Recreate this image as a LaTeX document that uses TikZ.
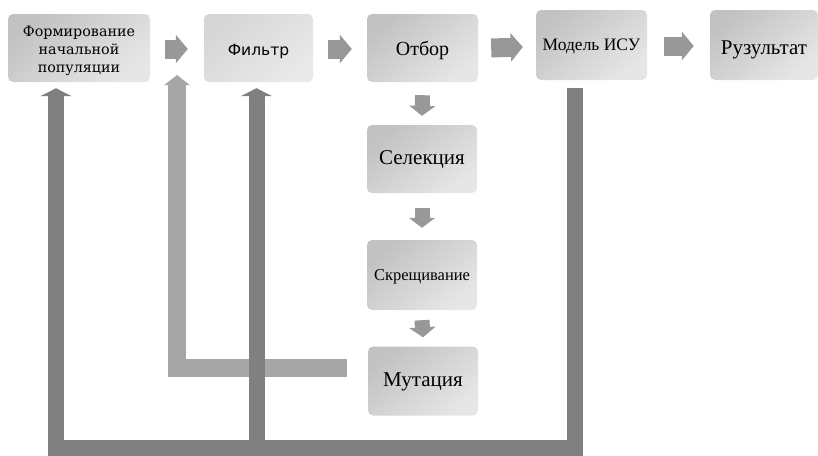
\documentclass[tikz,border=0pt]{standalone}
\usepackage{fontspec}
\setmainfont{Liberation Serif}
\newfontfamily\dvserif{DejaVu Serif}
\newfontfamily\dvsans{DejaVu Sans}
\usetikzlibrary{arrows.meta,calc}
\definecolor{bxdark}{HTML}{C2C2C2}
\definecolor{bxlight}{HTML}{E6E6E6}
\definecolor{bxdarkB}{HTML}{D6D6D6}
\definecolor{bxlightB}{HTML}{E9E9E9}
\definecolor{arrgray}{HTML}{989898}
\definecolor{fbdarkc}{HTML}{808080}
\definecolor{fblightc}{HTML}{A6A6A6}
\newcommand{\fs}[1]{\fontsize{#1}{#1}\selectfont}
\begin{document}
\begin{tikzpicture}[x=1pt,y=-1pt,
  box/.style={rounded corners=5pt, inner sep=0pt,
    top color=bxdark, bottom color=bxlight, shading angle=40},
  boxB/.style={box, top color=bxdarkB, bottom color=bxlightB, shading angle=40},
  lbl/.style={inner sep=0pt, align=center, text=black},
  harr/.style={draw=arrgray, line width=19pt, -{Triangle[width=28pt,length=12pt]}},
  varr/.style={draw=arrgray, line width=15pt, -{Triangle[width=26pt,length=10pt]}},
  fbdark/.style={draw=fbdarkc, line width=16pt, line join=miter, -{Triangle[width=31pt,length=8pt]}},
  fblight/.style={draw=fblightc, line width=18pt, line join=miter, -{Triangle[width=25pt,length=10pt]}}
]
\useasboundingbox (0,0) rectangle (818,455);

% boxes
\node[box, minimum width=142pt, minimum height=68pt,
  label={[lbl, yshift=-3pt, font=\dvserif\fontsize{14.3}{18}\selectfont]center:{Формирование\\начальной\\популяции}}]
  (form) at (79,48) {};
\node[boxB, minimum width=109pt, minimum height=68pt,
  label={[lbl, yshift=-3pt, font=\dvsans\fs{15.5}]center:Фильтр}] (filt) at (258.5,48) {};
\node[box, minimum width=111pt, minimum height=68pt,
  label={[lbl, yshift=-2pt, font=\fs{20}]center:Отбор}] (otb) at (422.5,48) {};
\node[box, minimum width=111pt, minimum height=70pt,
  label={[lbl, yshift=-1pt, font=\fs{17.5}]center:Модель ИСУ}] (mod) at (591.5,45) {};
\node[box, minimum width=108pt, minimum height=70pt,
  label={[lbl, yshift=-5pt, font=\fs{21}]center:Рузультат}] (res) at (764,45) {};
\node[box, minimum width=110pt, minimum height=68pt,
  label={[lbl, yshift=-1pt, font=\fs{21}]center:Селекция}] (sel) at (422,159) {};
\node[box, minimum width=110pt, minimum height=70pt,
  label={[lbl, yshift=-2pt, font=\fs{16.5}]center:Скрещивание}] (skr) at (422,275) {};
\node[box, minimum width=110pt, minimum height=69pt,
  label={[lbl, yshift=-1pt, font=\fs{21}]center:Мутация}] (mut) at (423,381) {};

% horizontal block arrows
\draw[harr] ($(form.east)+(15,1)$) -- ($(filt.west)+(-16,1)$);
\draw[harr] ($(filt.east)+(15,1)$) -- ($(otb.west)+(-15,1)$);
\draw[harr] ($(otb.east)+(13,0)$) -- ($(mod.west)+(-13,2)$);
\draw[harr] ($(mod.east)+(17,1)$) -- ($(res.west)+(-16,1)$);

% vertical block arrows
\draw[varr] ($(otb.south)+(0,13)$) -- ($(sel.north)+(0,-9)$);
\draw[varr] ($(sel.south)+(0,15)$) -- ($(skr.north)+(0,-12)$);
\draw[varr] ($(skr.south)+(0,10)$) -- ($(mut.north)+(0,-9)$);

% feedback: Мутация -> between Формирование and Фильтр
\coordinate (fa) at ($(form.east)!0.5!(filt.west)$);
\draw[fblight] ($(mut.west)+(-21,-13)$) -| ($(fa)+(0,27)$);

% feedback: Модель ИСУ -> Формирование, Фильтр
\coordinate (ms) at ($(mod.south)+(-16.5,8)$);
\coordinate (bl) at (56,448);
\draw[fbdark] (ms) |- (bl) -- ($(form.south)+(-23,6)$);
\draw[fbdark] ($(filt.south |- bl)+(-2,0)$) -- ($(filt.south)+(-2,6)$);
\end{tikzpicture}
\end{document}
